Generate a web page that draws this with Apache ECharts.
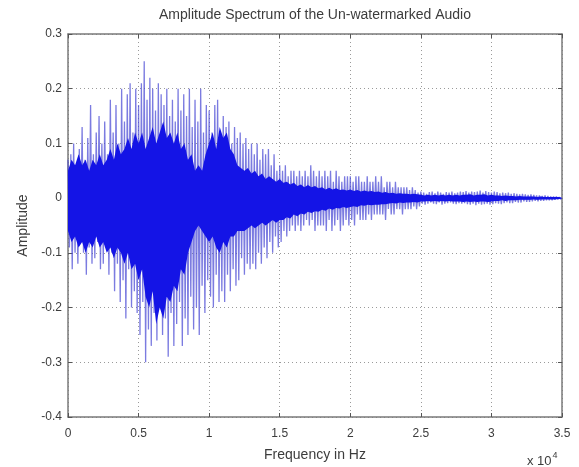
<!DOCTYPE html>
<html>
<head>
<meta charset="utf-8">
<script src="https://cdn.jsdelivr.net/npm/echarts@6/dist/echarts.min.js"></script>
<style>
html,body{margin:0;padding:0;background:#fff;}
#chart{width:579px;height:467px;}
</style>
</head>
<body>
<div id="chart"></div>
<script>
// Frequency axis is in units of 10^4 Hz
const freqStart = 0;
const spikeStep = 0.01;    // one amplitude sample every 100 Hz
const coreStep = 0.025;    // dense core envelope every 250 Hz
// Amplitude samples, 10 per 0.1 unit of frequency
const amplitude = [
  0.07,-0.09,0.08,-0.13,0.10,-0.10,0.06,-0.12,0.09,-0.08,
  0.13,-0.10,0.07,-0.14,0.11,-0.09,0.17,-0.12,0.08,-0.11,
  0.12,-0.08,0.15,-0.13,0.10,-0.12,0.14,-0.09,0.08,-0.14,
  0.18,-0.10,0.12,-0.17,0.17,-0.12,0.10,-0.19,0.20,-0.15,
  0.14,-0.22,0.19,-0.13,0.21,-0.20,0.12,-0.17,0.20,-0.21,
  0.17,-0.25,0.21,-0.19,0.25,-0.30,0.18,-0.24,0.22,-0.27,
  0.20,-0.21,0.16,-0.26,0.21,-0.18,0.19,-0.25,0.17,-0.22,
  0.20,-0.29,0.15,-0.21,0.18,-0.27,0.14,-0.23,0.20,-0.19,
  0.16,-0.27,0.19,-0.22,0.15,-0.25,0.20,-0.18,0.13,-0.24,
  0.18,-0.20,0.14,-0.25,0.20,-0.16,0.12,-0.21,0.17,-0.15,
  0.16,-0.18,0.12,-0.20,0.17,-0.14,0.18,-0.19,0.11,-0.17,
  0.15,-0.19,0.13,-0.14,0.14,-0.17,0.10,-0.13,0.13,-0.16,
  0.11,-0.15,0.12,-0.11,0.10,-0.14,0.11,-0.12,0.09,-0.13,
  0.10,-0.12,0.08,-0.13,0.10,-0.10,0.07,-0.12,0.09,-0.09,
  0.08,-0.11,0.09,-0.08,0.06,-0.10,0.08,-0.07,0.05,-0.09,
  0.06,-0.08,0.05,-0.06,0.06,-0.07,0.04,-0.06,0.05,-0.05,
  0.05,-0.06,0.04,-0.05,0.05,-0.06,0.04,-0.05,0.05,-0.04,
  0.04,-0.05,0.06,-0.04,0.05,-0.06,0.04,-0.05,0.05,-0.05,
  0.04,-0.05,0.05,-0.06,0.04,-0.04,0.05,-0.06,0.03,-0.05,
  0.05,-0.04,0.04,-0.06,0.03,-0.05,0.04,-0.04,0.04,-0.05,
  0.04,-0.04,0.03,-0.05,0.04,-0.03,0.04,-0.04,0.03,-0.04,
  0.03,-0.04,0.04,-0.03,0.03,-0.04,0.03,-0.03,0.04,-0.03,
  0.03,-0.03,0.04,-0.03,0.02,-0.04,0.03,-0.02,0.03,-0.03,
  0.02,-0.03,0.03,-0.02,0.02,-0.02,0.02,-0.03,0.02,-0.02,
  0.02,-0.02,0.015,-0.02,0.02,-0.015,0.015,-0.02,0.01,-0.015,
  0.012,-0.01,0.01,-0.012,0.008,-0.01,0.011,-0.008,0.012,-0.01,
  0.009,-0.011,0.012,-0.008,0.01,-0.012,0.008,-0.01,0.011,-0.009,
  0.01,-0.008,0.012,-0.01,0.009,-0.011,0.01,-0.009,0.012,-0.01,
  0.011,-0.009,0.013,-0.011,0.01,-0.012,0.012,-0.01,0.011,-0.013,
  0.012,-0.01,0.014,-0.012,0.01,-0.011,0.013,-0.01,0.011,-0.012,
  0.01,-0.011,0.012,-0.009,0.011,-0.01,0.009,-0.011,0.01,-0.009,
  0.009,-0.008,0.01,-0.009,0.008,-0.009,0.009,-0.007,0.008,-0.008,
  0.007,-0.008,0.008,-0.006,0.007,-0.007,0.006,-0.007,0.007,-0.006,
  0.006,-0.005,0.005,-0.006,0.005,-0.005,0.004,-0.005,0.005,-0.004,
  0.004,-0.004,0.003,-0.004,0.003,-0.003,0.003,-0.002,0.002,-0.002,
  0
];
// Solid (densely oscillating) core of the spectrum: upper and lower edges
const coreUpper = [
  0.05,0.07,0.06,0.08,0.06,0.07,0.05,0.07,0.06,0.08,
  0.06,0.07,0.09,0.07,0.10,0.08,0.09,0.11,0.09,0.12,
  0.10,0.12,0.09,0.11,0.13,0.10,0.12,0.14,0.11,0.12,
  0.10,0.12,0.09,0.10,0.07,0.08,0.05,0.06,0.05,0.08,
  0.10,0.12,0.09,0.13,0.11,0.12,0.09,0.08,0.06,0.055,
  0.05,0.055,0.045,0.05,0.04,0.045,0.035,0.04,0.035,0.03,
  0.035,0.028,0.03,0.025,0.028,0.022,0.025,0.02,0.024,0.02,
  0.022,0.018,0.02,0.016,0.019,0.016,0.018,0.015,0.016,0.014,
  0.016,0.013,0.015,0.012,0.014,0.012,0.013,0.011,0.012,0.01,
  0.011,0.009,0.01,0.008,0.009,0.008,0.008,0.007,0.008,0.007,
  0.006,0.005,0.006,0.005,0.006,0.005,0.006,0.005,0.006,0.005,
  0.006,0.005,0.006,0.006,0.007,0.005,0.006,0.006,0.007,0.005,
  0.006,0.005,0.005,0.004,0.005,0.004,0.004,0.003,0.004,0.003,
  0.003,0.003,0.003,0.002,0.003,0.002,0.002,0.002,0.002,0.002,
  0.001
];
const coreLower = [
  -0.06,-0.08,-0.07,-0.09,-0.08,-0.10,-0.08,-0.09,-0.07,-0.09,
  -0.08,-0.10,-0.09,-0.11,-0.09,-0.10,-0.12,-0.10,-0.13,-0.12,
  -0.15,-0.13,-0.18,-0.20,-0.17,-0.23,-0.20,-0.22,-0.18,-0.19,
  -0.16,-0.17,-0.13,-0.14,-0.10,-0.08,-0.06,-0.05,-0.06,-0.07,
  -0.08,-0.07,-0.09,-0.10,-0.08,-0.09,-0.07,-0.07,-0.06,-0.06,
  -0.06,-0.055,-0.05,-0.055,-0.05,-0.045,-0.05,-0.045,-0.04,-0.045,
  -0.04,-0.04,-0.035,-0.037,-0.03,-0.033,-0.028,-0.03,-0.025,-0.027,
  -0.024,-0.025,-0.021,-0.023,-0.019,-0.021,-0.018,-0.019,-0.016,-0.018,
  -0.016,-0.015,-0.016,-0.013,-0.014,-0.012,-0.013,-0.012,-0.012,-0.011,
  -0.011,-0.01,-0.009,-0.01,-0.008,-0.009,-0.008,-0.008,-0.007,-0.008,
  -0.006,-0.006,-0.005,-0.006,-0.005,-0.006,-0.005,-0.006,-0.005,-0.006,
  -0.006,-0.006,-0.007,-0.006,-0.007,-0.006,-0.007,-0.006,-0.006,-0.007,
  -0.006,-0.005,-0.005,-0.004,-0.005,-0.004,-0.004,-0.004,-0.003,-0.003,
  -0.003,-0.003,-0.002,-0.003,-0.002,-0.002,-0.002,-0.002,-0.002,-0.001,
  -0.001
];
const xTickLabels = ['0','0.5','1','1.5','2','2.5','3','3.5'];
const yTickLabels = ['-0.4','-0.3','-0.2','-0.1','0','0.1','0.2','0.3'];
const titleText = 'Amplitude Spectrum of the Un-watermarked Audio';
const xName = 'Frequency in Hz';
const yName = 'Amplitude';

const spikePts = amplitude.map((v, i) => [freqStart + i * spikeStep, v]);
const upperPts = coreUpper.map((v, i) => [freqStart + i * coreStep, v]);
const lowerPts = coreLower.map((v, i) => [freqStart + i * coreStep, v]);

const FONT = '"Liberation Sans", Arial, sans-serif';
const TXT = '#3c3c3c';
const AX = '#7a7a7a';
const CORE = '#1414e6';

const xLab = v => xTickLabels[Math.round(v / 0.5)];
const yLab = v => yTickLabels[Math.round((v + 0.4) / 0.1)];

const baseX = {
  type: 'value', min: 0, max: 3.5, interval: 0.5,
  axisLine: { show: true, onZero: false, lineStyle: { color: AX, width: 1.5 } },
  axisTick: { show: true, inside: true, length: 4, lineStyle: { color: '#555' } }
};
const baseY = {
  type: 'value', min: -0.4, max: 0.3, interval: 0.1,
  axisLine: { show: true, onZero: false, lineStyle: { color: AX, width: 1.5 } },
  axisTick: { show: true, inside: true, length: 4, lineStyle: { color: '#555' } }
};
// core halves overlap slightly around zero so no seam shows
const coreSeries = (pts, origin) => ({
  type: 'line', data: pts, showSymbol: false, sampling: null,
  lineStyle: { width: 0, opacity: 0 },
  areaStyle: { color: CORE, opacity: 1, origin: origin },
  z: 4, silent: true
});

const chart = echarts.init(document.getElementById('chart'), null, { renderer: 'canvas' });
chart.setOption({
  animation: false,
  backgroundColor: '#fff',
  grid: { left: 68, right: 17, top: 34, bottom: 48, containLabel: false },
  xAxis: [
    Object.assign({}, baseX, {
      position: 'bottom',
      axisLabel: { formatter: xLab, color: TXT, fontSize: 12, fontFamily: FONT, margin: 11 },
      splitLine: { show: true, lineStyle: { type: [1, 3], color: '#9a9a9a', width: 1 } },
      name: xName, nameLocation: 'middle', nameGap: 31,
      nameTextStyle: { color: TXT, fontSize: 14, fontFamily: FONT }
    }),
    Object.assign({}, baseX, { position: 'top', axisLabel: { show: false }, splitLine: { show: false } })
  ],
  yAxis: [
    Object.assign({}, baseY, {
      position: 'left',
      axisLabel: { formatter: yLab, color: TXT, fontSize: 12, fontFamily: FONT, margin: 6 },
      splitLine: { show: true, lineStyle: { type: [1, 3], color: '#9a9a9a', width: 1 } },
      name: yName, nameLocation: 'middle', nameGap: 38, nameRotate: 90,
      nameTextStyle: { color: TXT, fontSize: 14, fontFamily: FONT }
    }),
    Object.assign({}, baseY, { position: 'right', axisLabel: { show: false }, splitLine: { show: false } })
  ],
  series: [
    {
      type: 'line', data: spikePts, showSymbol: false, sampling: null,
      lineStyle: { color: '#4848d4', width: 1.3, opacity: 0.72 },
      z: 3, silent: true
    },
    coreSeries(upperPts, -0.002),
    coreSeries(lowerPts, 0.002)
  ],
  graphic: [
    { type: 'text', x: 315, y: 15, z: 10,
      style: { text: titleText, fill: TXT, font: '14px ' + FONT, textAlign: 'center', textVerticalAlign: 'middle' } },
    { type: 'text', x: 527, y: 451, z: 10,
      style: { text: '{a|x 10}{b|4}', fill: TXT, font: '13px ' + FONT,
        rich: { a: { fontSize: 13, fontFamily: FONT, fill: TXT, verticalAlign: 'bottom' },
                b: { fontSize: 9, fontFamily: FONT, fill: TXT, verticalAlign: 'top', padding: [0,0,8,1] } } } }
  ]
});
</script>
</body>
</html>
